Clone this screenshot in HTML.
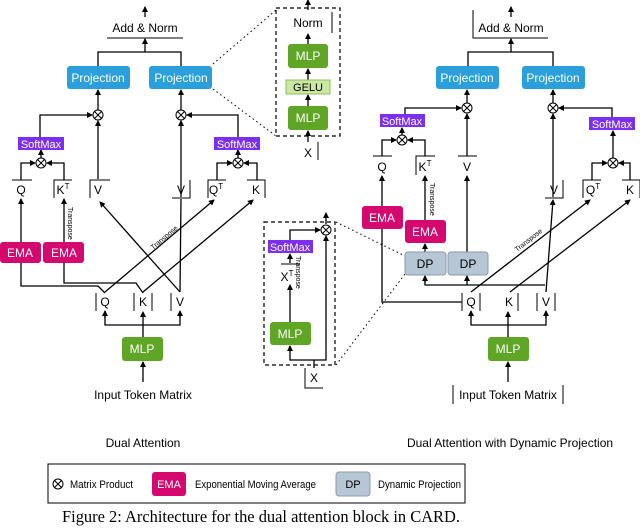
<!DOCTYPE html>
<html><head><style>
html,body{margin:0;padding:0;background:#fff}
svg{display:block;font-family:"Liberation Sans",sans-serif}
</style></head><body>
<svg width="640" height="528" viewBox="0 0 640 528" xmlns="http://www.w3.org/2000/svg">
<defs>
<marker id="a" markerWidth="6" markerHeight="6" refX="5" refY="3" orient="auto" markerUnits="userSpaceOnUse"><path d="M0,0 L6,3 L0,6 z" fill="#000"/></marker>
<g id="ot"><circle r="5" fill="#fff" stroke="#000" stroke-width="1"/><path d="M-3.5,-3.5 L3.5,3.5 M-3.5,3.5 L3.5,-3.5" stroke="#000" stroke-width="1"/></g>
</defs>
<g stroke="#000" stroke-width="1.3" fill="none">
<!-- LEFT -->
<line x1="145" y1="17" x2="145" y2="7" marker-end="url(#a)"/>
<line x1="107" y1="38" x2="183" y2="38" stroke-width="1"/>
<line x1="145" y1="52" x2="145" y2="39" marker-end="url(#a)"/>
<polyline points="98,66 98,52 181,52 181,66"/>
<line x1="98" y1="110" x2="98" y2="90" marker-end="url(#a)"/>
<line x1="181" y1="110" x2="181" y2="90" marker-end="url(#a)"/>
<polyline points="40,137 40,115 92,115" marker-end="url(#a)"/>
<polyline points="238,137 238,115 187,115" marker-end="url(#a)"/>
<line x1="98" y1="179" x2="98" y2="121" marker-end="url(#a)"/>
<line x1="181" y1="197" x2="181" y2="121" marker-end="url(#a)"/>
<line x1="41" y1="158" x2="41" y2="150" marker-end="url(#a)"/>
<line x1="238" y1="158" x2="238" y2="150" marker-end="url(#a)"/>
<polyline points="21,180 21,163 35,163" marker-end="url(#a)"/>
<polyline points="64,180 64,163 47,163" marker-end="url(#a)"/>
<polyline points="217,180 217,163 232,163" marker-end="url(#a)"/>
<polyline points="257,180 257,163 244,163" marker-end="url(#a)"/>
<g stroke-width="1"><line x1="12" y1="180" x2="32" y2="180"/><polyline points="54,198 54,180 72,180"/><polyline points="90,198 90,180 110,180"/><polyline points="172,198 190,198 190,180"/><polyline points="208,198 208,180 226,180"/><polyline points="247,180 265,180 265,198"/></g>
<line x1="21" y1="242" x2="21" y2="199" marker-end="url(#a)"/>
<line x1="64" y1="242" x2="64" y2="199" marker-end="url(#a)"/>
<polyline points="21,263 21,286 98,286 105,293"/>
<polyline points="64,263 64,283 136,283 143,293"/>
<line x1="105" y1="292" x2="214" y2="200" marker-end="url(#a)"/>
<line x1="143" y1="292" x2="253" y2="200" marker-end="url(#a)"/>
<line x1="180" y1="292" x2="100" y2="202" marker-end="url(#a)"/>
<line x1="180" y1="292" x2="181" y2="199"/>
<g stroke-width="1"><line x1="96" y1="293" x2="96" y2="311"/><line x1="134" y1="293" x2="134" y2="311"/><line x1="152" y1="293" x2="152" y2="311"/><line x1="171" y1="293" x2="171" y2="311"/></g>
<line x1="143" y1="337" x2="143" y2="312" marker-end="url(#a)"/>
<polyline points="105,312 105,325 180,325 180,312"/>
<line x1="105" y1="318" x2="105" y2="311" marker-end="url(#a)"/>
<line x1="180" y1="318" x2="180" y2="311" marker-end="url(#a)"/>
<line x1="143" y1="382" x2="143" y2="362" marker-end="url(#a)"/>
<!-- TOP INSET -->
<rect x="276" y="8" width="64" height="128" stroke-dasharray="4,3" stroke-width="1.2"/>
<line x1="308" y1="10" x2="308" y2="0" marker-end="url(#a)"/>
<line x1="332" y1="12" x2="332" y2="33" stroke-width="1"/>
<line x1="308" y1="44" x2="308" y2="34" marker-end="url(#a)"/>
<line x1="308" y1="80" x2="308" y2="69" marker-end="url(#a)"/>
<line x1="308" y1="106" x2="308" y2="95" marker-end="url(#a)"/>
<line x1="308" y1="142" x2="308" y2="131" marker-end="url(#a)"/>
<line x1="318" y1="142" x2="318" y2="160" stroke-width="1"/>
<g stroke-dasharray="1.5,3" stroke-width="1"><line x1="213" y1="64" x2="276" y2="10"/><line x1="213" y1="89" x2="276" y2="136"/><line x1="336" y1="222" x2="405" y2="256"/><line x1="336" y1="365" x2="405" y2="274"/></g>
<!-- BOTTOM INSET -->
<rect x="264" y="222" width="71" height="143" stroke-dasharray="4,3" stroke-width="1.2"/>
<line x1="326" y1="224" x2="326" y2="213" marker-end="url(#a)"/>
<polyline points="290,240 290,230 320,230" marker-end="url(#a)"/>
<line x1="290" y1="263" x2="290" y2="254" marker-end="url(#a)"/>
<line x1="281" y1="264" x2="300" y2="264" stroke-width="1"/>
<line x1="290" y1="322" x2="290" y2="285" marker-end="url(#a)"/>
<polyline points="314,368 314,360 290,360 290,346" marker-end="url(#a)"/>
<polyline points="314,360 326,360 326,236" marker-end="url(#a)"/>
<polyline points="305,368 305,388 323,388" stroke-width="1"/>
<!-- RIGHT -->
<line x1="511" y1="17" x2="511" y2="7" marker-end="url(#a)"/>
<polyline points="473,10 473,38 548,38" stroke-width="1"/>
<line x1="511" y1="52" x2="511" y2="39" marker-end="url(#a)"/>
<polyline points="468,66 468,52 553,52 553,66"/>
<line x1="467" y1="103" x2="467" y2="90" marker-end="url(#a)"/>
<line x1="553" y1="103" x2="553" y2="90" marker-end="url(#a)"/>
<polyline points="405,114 405,108 461,108" marker-end="url(#a)"/>
<polyline points="612,117 612,108 559,108" marker-end="url(#a)"/>
<line x1="467" y1="156" x2="467" y2="114" marker-end="url(#a)"/>
<line x1="553" y1="197" x2="553" y2="114" marker-end="url(#a)"/>
<line x1="402" y1="135" x2="402" y2="128" marker-end="url(#a)"/>
<line x1="613" y1="158" x2="613" y2="131" marker-end="url(#a)"/>
<polyline points="382,156 382,140 396,140" marker-end="url(#a)"/>
<polyline points="425,156 425,140 408,140" marker-end="url(#a)"/>
<polyline points="592,180 592,163 607,163" marker-end="url(#a)"/>
<polyline points="630,180 630,163 619,163" marker-end="url(#a)"/>
<g stroke-width="1"><line x1="373" y1="156" x2="392" y2="156"/><polyline points="416,175 416,156 435,156"/><line x1="458" y1="156" x2="477" y2="156"/><polyline points="545,198 563,198 563,180"/><polyline points="583,198 583,180 601,180"/><polyline points="622,180 640,180 640,198"/></g>
<line x1="382" y1="206" x2="382" y2="176" marker-end="url(#a)"/>
<line x1="425" y1="220" x2="425" y2="176" marker-end="url(#a)"/>
<line x1="467" y1="252" x2="467" y2="176" marker-end="url(#a)"/>
<line x1="425" y1="252" x2="425" y2="244" marker-end="url(#a)"/>
<polyline points="382,229 382,302 462,302"/>
<polyline points="425,276 425,285 545,285" />
<line x1="425" y1="283" x2="425" y2="276" marker-end="url(#a)"/>
<line x1="467" y1="285" x2="467" y2="276" marker-end="url(#a)"/>
<line x1="471" y1="292" x2="590" y2="200" marker-end="url(#a)"/>
<line x1="510" y1="292" x2="630" y2="200" marker-end="url(#a)"/>
<line x1="546" y1="292" x2="553" y2="200" marker-end="url(#a)"/>
<g stroke-width="1"><line x1="462" y1="293" x2="462" y2="311"/><line x1="480" y1="293" x2="480" y2="311"/><line x1="518" y1="293" x2="518" y2="311"/><line x1="537" y1="293" x2="537" y2="311"/><line x1="555" y1="293" x2="555" y2="311"/><line x1="453" y1="385" x2="453" y2="404"/><line x1="563" y1="385" x2="563" y2="404"/></g>
<line x1="508" y1="337" x2="508" y2="312" marker-end="url(#a)"/>
<polyline points="471,312 471,325 546,325 546,312"/>
<line x1="471" y1="318" x2="471" y2="311" marker-end="url(#a)"/>
<line x1="546" y1="318" x2="546" y2="311" marker-end="url(#a)"/>
<line x1="508" y1="382" x2="508" y2="362" marker-end="url(#a)"/>
<!-- legend -->
<rect x="48" y="464" width="417" height="39" stroke-width="1"/>
</g>
<!-- circles -->
<use href="#ot" x="98" y="115"/><use href="#ot" x="181" y="115"/><use href="#ot" x="41" y="163"/><use href="#ot" x="238" y="163"/>
<use href="#ot" x="326" y="230"/><use href="#ot" x="467" y="108"/><use href="#ot" x="553" y="108"/><use href="#ot" x="402" y="140"/><use href="#ot" x="613" y="163"/><use href="#ot" x="58" y="484"/>
<!-- boxes -->
<g font-size="12" text-anchor="middle">
<rect x="67" y="66" width="63" height="23" rx="3" fill="#2a9fdc"/><text x="98" y="82" fill="#fff">Projection</text>
<rect x="149" y="66" width="63" height="23" rx="3" fill="#2a9fdc"/><text x="181" y="82" fill="#fff">Projection</text>
<rect x="436" y="66" width="63" height="23" rx="3" fill="#2a9fdc"/><text x="467" y="82" fill="#fff">Projection</text>
<rect x="522" y="66" width="63" height="23" rx="3" fill="#2a9fdc"/><text x="553" y="82" fill="#fff">Projection</text>
<rect x="18" y="137" width="46" height="13" fill="#7b2ff2"/><text x="41" y="148" fill="#fff" font-size="11">SoftMax</text>
<rect x="214" y="137" width="46" height="13" fill="#7b2ff2"/><text x="237" y="148" fill="#fff" font-size="11">SoftMax</text>
<rect x="380" y="114" width="45" height="13" fill="#7b2ff2"/><text x="402" y="125" fill="#fff" font-size="11">SoftMax</text>
<rect x="589" y="117" width="46" height="13" fill="#7b2ff2"/><text x="612" y="128" fill="#fff" font-size="11">SoftMax</text>
<rect x="268" y="240" width="45" height="13" fill="#7b2ff2"/><text x="290" y="251" fill="#fff" font-size="11">SoftMax</text>
<rect x="0" y="242" width="41" height="21" rx="3" fill="#d5086f"/><text x="20" y="257" fill="#fff">EMA</text>
<rect x="43" y="242" width="41" height="21" rx="3" fill="#d5086f"/><text x="64" y="257" fill="#fff">EMA</text>
<rect x="362" y="206" width="41" height="23" rx="3" fill="#d5086f"/><text x="382" y="222" fill="#fff">EMA</text>
<rect x="405" y="220" width="41" height="23" rx="3" fill="#d5086f"/><text x="425" y="236" fill="#fff">EMA</text>
<rect x="405" y="252" width="41" height="23" rx="3" fill="#b6c6d4" stroke="#8a9aa8"/><text x="425" y="268">DP</text>
<rect x="448" y="252" width="40" height="23" rx="3" fill="#b6c6d4" stroke="#8a9aa8"/><text x="468" y="268">DP</text>
<rect x="122" y="337" width="41" height="24" rx="3" fill="#5fa627"/><text x="142" y="353" fill="#fff">MLP</text>
<rect x="488" y="337" width="41" height="24" rx="3" fill="#5fa627"/><text x="508" y="353" fill="#fff">MLP</text>
<rect x="270" y="322" width="41" height="23" rx="3" fill="#5fa627"/><text x="290" y="338" fill="#fff">MLP</text>
<rect x="288" y="44" width="40" height="24" rx="3" fill="#5fa627"/><text x="308" y="60" fill="#fff">MLP</text>
<rect x="288" y="106" width="40" height="24" rx="3" fill="#5fa627"/><text x="308" y="122" fill="#fff">MLP</text>
<rect x="286" y="80" width="44" height="14" fill="#cbe7a3" stroke="#8fbf5f"/><text x="308" y="91" font-size="11">GELU</text>
<rect x="152" y="472" width="34" height="24" rx="3" fill="#d5086f"/><text x="169" y="488" fill="#fff" font-size="11">EMA</text>
<rect x="336" y="472" width="34" height="24" rx="3" fill="#b6c6d4" stroke="#8a9aa8"/><text x="353" y="488" font-size="11">DP</text>
</g>
<!-- labels -->
<g font-size="12">
<text x="145" y="32" text-anchor="middle">Add  &amp; Norm</text>
<text x="511" y="32" text-anchor="middle">Add  &amp; Norm</text>
<text x="308" y="27" text-anchor="middle">Norm</text>
<text x="308" y="157" text-anchor="middle">X</text>
<text x="314" y="382" text-anchor="middle">X</text>
<text x="21" y="194" text-anchor="middle">Q</text>
<text x="63" y="194" text-anchor="middle">K<tspan dy="-5" font-size="8">T</tspan></text>
<text x="98" y="194" text-anchor="middle">V</text>
<text x="181" y="194" text-anchor="middle">V</text>
<text x="216" y="194" text-anchor="middle">Q<tspan dy="-5" font-size="8">T</tspan></text>
<text x="256" y="194" text-anchor="middle">K</text>
<text x="287" y="281" text-anchor="middle">X<tspan dy="-5" font-size="8">T</tspan></text>
<text x="382" y="171" text-anchor="middle">Q</text>
<text x="425" y="171" text-anchor="middle">K<tspan dy="-5" font-size="8">T</tspan></text>
<text x="467" y="171" text-anchor="middle">V</text>
<text x="554" y="194" text-anchor="middle">V</text>
<text x="593" y="194" text-anchor="middle">Q<tspan dy="-5" font-size="8">T</tspan></text>
<text x="630" y="194" text-anchor="middle">K</text>
<text x="105" y="306" text-anchor="middle">Q</text><text x="143" y="306" text-anchor="middle">K</text><text x="180" y="306" text-anchor="middle">V</text>
<text x="471" y="306" text-anchor="middle">Q</text><text x="509" y="306" text-anchor="middle">K</text><text x="546" y="306" text-anchor="middle">V</text>
<text x="143" y="399" text-anchor="middle">Input Token Matrix</text>
<text x="508" y="399" text-anchor="middle">Input Token Matrix</text>
<text x="143" y="447" text-anchor="middle">Dual Attention</text>
<text x="510" y="447" text-anchor="middle">Dual Attention with Dynamic Projection</text>
</g>
<g font-size="11">
<text x="70" y="488" textLength="63" lengthAdjust="spacingAndGlyphs">Matrix Product</text>
<text x="195" y="488" textLength="121" lengthAdjust="spacingAndGlyphs">Exponential Moving Average</text>
<text x="378" y="488" textLength="83" lengthAdjust="spacingAndGlyphs">Dynamic Projection</text>
</g>
<g font-size="7">
<text transform="translate(68,207) rotate(90)">Transpose</text>
<text transform="translate(296,256) rotate(90)">Transpose</text>
<text transform="translate(430,183) rotate(90)">Transpose</text>
<text transform="translate(153,250) rotate(-40)">Transpose</text>
<text transform="translate(517,252) rotate(-38)">Transpose</text>
</g>
<text x="62" y="522" font-family="Liberation Serif,serif" font-size="17" textLength="398" lengthAdjust="spacingAndGlyphs">Figure 2:  Architecture for the dual attention block in CARD.</text>
</svg>
</body></html>
